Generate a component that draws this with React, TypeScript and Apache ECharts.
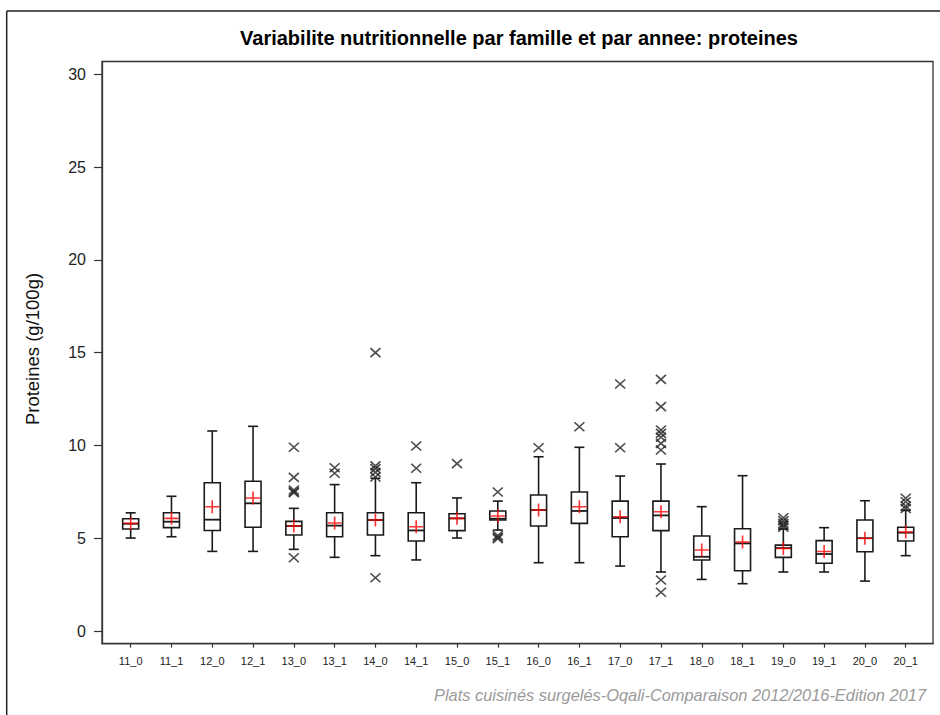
import React, { useEffect, useRef } from "react";
import * as echarts from "echarts";

const categories = ["11_0", "11_1", "12_0", "12_1", "13_0", "13_1", "14_0", "14_1", "15_0", "15_1", "16_0", "16_1", "17_0", "17_1", "18_0", "18_1", "19_0", "19_1", "20_0", "20_1"];
const whiskerLow = [5.01, 5.08, 4.29, 4.29, 4.4, 3.97, 4.06, 3.83, 5.01, 5.44, 3.68, 3.68, 3.5, 3.18, 2.78, 2.55, 3.18, 3.18, 2.69, 4.06];
const q1 = [5.5, 5.57, 5.42, 5.59, 5.17, 5.08, 5.17, 4.85, 5.41, 5.98, 5.66, 5.8, 5.08, 5.41, 3.83, 3.25, 3.97, 3.65, 4.27, 4.85];
const median = [5.78, 5.89, 6.0, 6.88, 5.66, 5.68, 5.98, 5.42, 6.07, 6.05, 6.52, 6.47, 6.09, 6.23, 4.0, 4.72, 4.47, 4.15, 5.0, 5.3];
const q3 = [6.05, 6.37, 7.99, 8.07, 5.91, 6.37, 6.37, 6.37, 6.32, 6.47, 7.33, 7.49, 7.0, 7.0, 5.12, 5.51, 4.63, 4.87, 5.98, 5.59];
const whiskerHigh = [6.37, 7.26, 10.78, 11.03, 6.61, 7.89, 8.23, 7.99, 7.17, 7.0, 9.39, 9.9, 8.35, 9.0, 6.7, 8.37, 5.5, 5.57, 7.02, 6.5];
const means = [5.8, 6.07, 6.7, 7.17, 5.66, 5.82, 5.98, 5.62, 6.07, 6.2, 6.52, 6.7, 6.16, 6.43, 4.36, 4.8, 4.45, 4.29, 5.0, 5.33];
const outliers = [
  [], [], [], [],
  [9.9, 8.28, 7.6, 7.5, 7.45, 3.95],
  [8.8, 8.5],
  [15.0, 8.9, 8.75, 8.55, 8.3, 2.87],
  [9.97, 8.77],
  [9.02],
  [7.49, 5.15, 5.05, 4.98],
  [9.88],
  [11.01],
  [13.31, 9.88],
  [13.56, 12.09, 10.83, 10.65, 10.44, 10.11, 9.75, 2.75, 2.09],
  [], [],
  [6.1, 5.95, 5.8, 5.7, 5.6],
  [], [],
  [7.15, 6.97, 6.74, 6.6],
];
const yTicks = [0, 5, 10, 15, 20, 25, 30];
const titleText = "Variabilite nutritionnelle par famille et par annee: proteines";
const yTitle = "Proteines (g/100g)";
const footnote = "Plats cuisinés surgelés-Oqali-Comparaison 2012/2016-Edition 2017";

const FONT = "'Liberation Sans', Arial, sans-serif";

export default function App() {
  const ref = useRef<HTMLDivElement>(null);
  useEffect(() => {
    if (!ref.current) return;
    const chart = echarts.init(ref.current, null, { renderer: "svg" });
    const boxData = categories.map((_, i) => [i, whiskerLow[i], q1[i], median[i], q3[i], whiskerHigh[i]]);
    const meanData = categories.map((_, i) => [i, means[i]]);
    const outData: number[][] = [];
    outliers.forEach((arr, i) => arr.forEach((v) => outData.push([i, v])));
    const xTicks = categories.map((_, i) => i);
    const lineStyle = { stroke: "#1a1a1a", lineWidth: 1.6 };

    chart.setOption({
      animation: false,
      backgroundColor: "#fff",
      grid: { left: 102, right: 7, top: 61.5, bottom: 71.3, show: true, borderColor: "#333", borderWidth: 1.3, backgroundColor: "transparent" },
      xAxis: {
        type: "value",
        min: -0.703,
        max: 19.669,
        axisLine: { show: true, onZero: false, lineStyle: { color: "#333", width: 1.3 } },
        axisTick: { show: true, length: 4, customValues: xTicks, lineStyle: { color: "#333", width: 1.2 } },
        axisLabel: { customValues: xTicks, formatter: (v: number) => categories[Math.round(v)], margin: 12, fontSize: 11, color: "#222", fontFamily: FONT },
        splitLine: { show: false },
      },
      yAxis: {
        type: "value",
        min: -0.684,
        max: 30.69,
        axisLine: { show: true, onZero: false, lineStyle: { color: "#333", width: 1.3 } },
        axisTick: { show: true, length: 8, customValues: yTicks, lineStyle: { color: "#333", width: 1.2 } },
        axisLabel: { customValues: yTicks, margin: 16, fontSize: 16, color: "#222", fontFamily: FONT },
        splitLine: { show: false },
      },
      graphic: [
        { type: "line", shape: { x1: 6.7, y1: 11, x2: 940, y2: 11 }, style: { stroke: "#222", lineWidth: 1.5 } },
        { type: "line", shape: { x1: 6.7, y1: 11, x2: 6.7, y2: 715 }, style: { stroke: "#222", lineWidth: 1.5 } },
        { type: "text", x: 519, y: 38, style: { text: titleText, font: `bold 20px ${FONT}`, fill: "#000", textAlign: "center", textVerticalAlign: "middle" } },
        { type: "text", x: 32, y: 349, rotation: Math.PI / 2, style: { text: yTitle, font: `18.5px ${FONT}`, fill: "#111", textAlign: "center", textVerticalAlign: "middle" } },
        { type: "text", x: 926, y: 695, style: { text: footnote, font: `italic 16.4px ${FONT}`, fill: "#9a9a9a", textAlign: "right", textVerticalAlign: "middle" } },
      ],
      series: [
        {
          type: "custom",
          data: boxData,
          encode: { x: 0, y: [1, 2, 3, 4, 5] },
          z: 2,
          renderItem: (params: any, api: any) => {
            const i = api.value(0);
            const lo = api.coord([i, api.value(1)]);
            const b1 = api.coord([i, api.value(2)]);
            const md = api.coord([i, api.value(3)]);
            const b3 = api.coord([i, api.value(4)]);
            const hi = api.coord([i, api.value(5)]);
            const x = lo[0];
            const bw = 8;
            const cw = 5;
            return {
              type: "group",
              children: [
                { type: "line", shape: { x1: x, y1: hi[1], x2: x, y2: b3[1] }, style: lineStyle },
                { type: "line", shape: { x1: x, y1: b1[1], x2: x, y2: lo[1] }, style: lineStyle },
                { type: "line", shape: { x1: x - cw, y1: hi[1], x2: x + cw, y2: hi[1] }, style: lineStyle },
                { type: "line", shape: { x1: x - cw, y1: lo[1], x2: x + cw, y2: lo[1] }, style: lineStyle },
                { type: "rect", shape: { x: x - bw, y: b3[1], width: 2 * bw, height: b1[1] - b3[1] }, style: { ...lineStyle, fill: "#fff" } },
                { type: "line", shape: { x1: x - bw, y1: md[1], x2: x + bw, y2: md[1] }, style: { ...lineStyle, lineWidth: 1.8 } },
              ],
            };
          },
        },
        {
          type: "scatter",
          data: outData,
          z: 3,
          symbol: "path://M0,0L10,10M10,0L0,10",
          symbolSize: [10, 9],
          itemStyle: { color: "rgba(0,0,0,0)", borderColor: "#222", borderWidth: 1.6 },
          emphasis: { disabled: true },
        },
        {
          type: "scatter",
          data: meanData,
          z: 4,
          symbol: "path://M5,0L5,10M0,5L10,5",
          symbolSize: [14, 13],
          itemStyle: { color: "rgba(0,0,0,0)", borderColor: "#ff0000", borderWidth: 1.6 },
          emphasis: { disabled: true },
        },
      ],
    });
    return () => chart.dispose();
  }, []);
  return <div ref={ref} style={{ position: "absolute", left: 0, top: 0, width: 940, height: 715 }} />;
}
